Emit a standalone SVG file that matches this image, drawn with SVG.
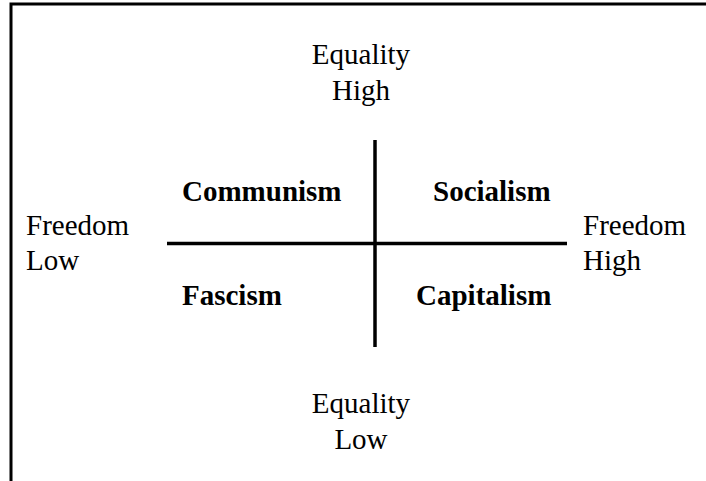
<svg xmlns="http://www.w3.org/2000/svg" width="706" height="481" viewBox="0 0 706 481">
<style>
.t{font-family:"Liberation Serif","Times New Roman",serif;font-size:29px;fill:#000}
.b{font-weight:bold}
.ax{stroke:#000;stroke-width:3.5;fill:none}
</style>
<rect width="706" height="481" fill="#fff"/>
<g id="frame"><path d="M11,481 V4 H706" stroke="#000" stroke-width="3" fill="none"/></g>
<g id="connectors">
<line class="ax" x1="375" y1="140" x2="375" y2="347"/>
<line class="ax" x1="167" y1="243.5" x2="567" y2="243.5"/>
</g>
<g id="top-label"><text class="t" x="361" y="64" text-anchor="middle">Equality</text><text class="t" x="361" y="100" text-anchor="middle">High</text></g>
<g id="bottom-label"><text class="t" x="361" y="413" text-anchor="middle">Equality</text><text class="t" x="361" y="449" text-anchor="middle">Low</text></g>
<g id="left-label"><text class="t" x="26" y="235">Freedom</text><text class="t" x="26" y="270">Low</text></g>
<g id="right-label"><text class="t" x="583" y="235">Freedom</text><text class="t" x="583" y="270">High</text></g>
<g id="communism"><text class="t b" x="182" y="201">Communism</text></g>
<g id="socialism"><text class="t b" x="433" y="201">Socialism</text></g>
<g id="fascism"><text class="t b" x="182" y="305">Fascism</text></g>
<g id="capitalism"><text class="t b" x="416" y="305">Capitalism</text></g>
</svg>
